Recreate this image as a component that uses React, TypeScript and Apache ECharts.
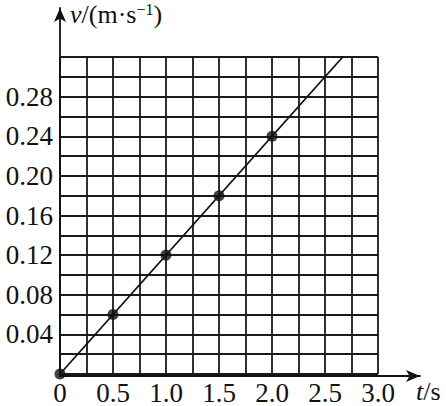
import React, { useEffect, useRef } from "react";
import * as echarts from "echarts";

const tValues = [0, 0.5, 1.0, 1.5, 2.0];
const vValues = [0, 0.06, 0.12, 0.18, 0.24];
const fitLine: [number, number][] = [
  [0, 0],
  [2.667, 0.32],
];
const xTicks = [0, 0.5, 1.0, 1.5, 2.0, 2.5, 3.0];
const yTicks = [0.04, 0.08, 0.12, 0.16, 0.2, 0.24, 0.28];

const FONT = "'Times New Roman', 'Liberation Serif', serif";

export default function App() {
  const ref = useRef<HTMLDivElement>(null);
  useEffect(() => {
    const chart = echarts.init(ref.current!, undefined, { renderer: "svg" });
    const gridLine = { color: "#1a1a1a", width: 1.8 };
    chart.setOption({
      animation: false,
      backgroundColor: "#fff",
      grid: [
        { left: 60, top: 57, width: 318, height: 319 },
        { left: 60, top: 8, width: 360, height: 368 },
      ],
      xAxis: [
        {
          type: "value",
          gridIndex: 0,
          min: 0,
          max: 3.0,
          interval: 0.5,
          axisLine: { show: false },
          axisTick: { show: false },
          splitLine: { show: true, lineStyle: gridLine },
          minorTick: { show: false, splitNumber: 2 },
          minorSplitLine: { show: true, lineStyle: gridLine },
          axisLabel: {
            margin: 5,
            color: "#111",
            fontFamily: FONT,
            fontSize: 27,
            formatter: (v: number) => {
              const m = xTicks.find((t) => Math.abs(t - v) < 1e-6);
              if (m === undefined) return "";
              return m === 0 ? "0" : m.toFixed(1);
            },
          },
        },
        {
          type: "value",
          gridIndex: 1,
          min: 0,
          max: 1,
          axisLine: {
            show: true,
            symbol: ["none", "arrow"],
            symbolSize: [9, 14],
            lineStyle: { color: "#111", width: 1.8 },
          },
          axisTick: { show: false },
          axisLabel: { show: false },
          splitLine: { show: false },
        },
      ],
      yAxis: [
        {
          type: "value",
          gridIndex: 0,
          min: 0,
          max: 0.32,
          interval: 0.04,
          axisLine: { show: false },
          axisTick: { show: false },
          splitLine: { show: true, lineStyle: gridLine },
          minorTick: { show: false, splitNumber: 2 },
          minorSplitLine: { show: true, lineStyle: gridLine },
          axisLabel: {
            margin: 7,
            color: "#111",
            fontFamily: FONT,
            fontSize: 27,
            formatter: (v: number) => {
              const m = yTicks.find((t) => Math.abs(t - v) < 1e-6);
              return m === undefined ? "" : m.toFixed(2);
            },
          },
        },
        {
          type: "value",
          gridIndex: 1,
          min: 0,
          max: 1,
          axisLine: {
            show: true,
            symbol: ["none", "arrow"],
            symbolSize: [9, 14],
            lineStyle: { color: "#111", width: 1.8 },
          },
          axisTick: { show: false },
          axisLabel: { show: false },
          splitLine: { show: false },
        },
      ],
      graphic: [
        {
          type: "text",
          left: 70,
          top: 1,
          style: {
            text: "{i|v}{n|/(m·s}{s|−1}{n|)}",
            fill: "#111",
            rich: {
              i: { fontStyle: "italic", fontSize: 26, fontFamily: FONT, fill: "#111" },
              n: { fontSize: 26, fontFamily: FONT, fill: "#111" },
              s: { fontSize: 16, fontFamily: FONT, verticalAlign: "top", padding: [0, 0, 10, 0], fill: "#111" },
            },
          },
        },
        {
          type: "text",
          left: 416,
          top: 378,
          style: {
            text: "{i|t}{n|/s}",
            fill: "#111",
            rich: {
              i: { fontStyle: "italic", fontSize: 26, fontFamily: FONT, fill: "#111" },
              n: { fontSize: 26, fontFamily: FONT, fill: "#111" },
            },
          },
        },
      ],
      series: [
        {
          type: "line",
          xAxisIndex: 0,
          yAxisIndex: 0,
          data: fitLine,
          showSymbol: false,
          lineStyle: { color: "#111", width: 1.8 },
          silent: true,
        },
        {
          type: "scatter",
          xAxisIndex: 0,
          yAxisIndex: 0,
          data: tValues.map((t, i) => [t, vValues[i]]),
          symbolSize: 11,
          itemStyle: { color: "#111" },
          z: 5,
        },
      ],
    });
    return () => chart.dispose();
  }, []);
  return (
    <div
      ref={ref}
      style={{ width: 446, height: 406, position: "absolute", left: 0, top: 0 }}
    />
  );
}
